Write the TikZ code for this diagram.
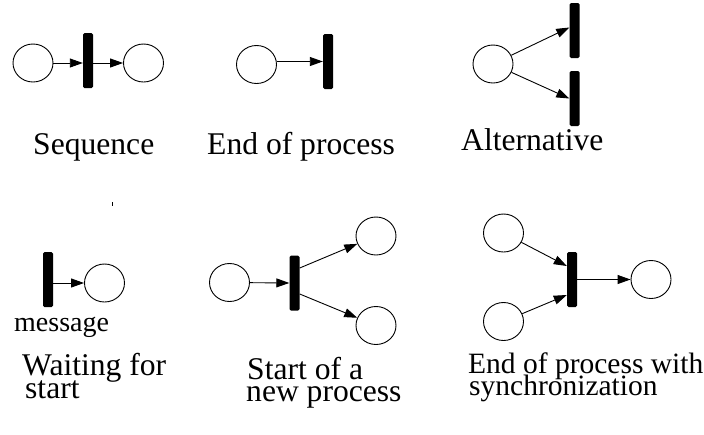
\documentclass[tikz,border=0pt]{standalone}
\usepackage{fontspec}
\setmainfont{Liberation Serif}
\usetikzlibrary{arrows.meta,shapes.geometric}
\begin{document}
\begin{tikzpicture}[x=1pt,y=-1pt,
  place/.style={draw,ellipse,line width=0.9pt,minimum width=40pt,minimum height=38pt,inner sep=0pt},
  trans/.style={fill=black,rounded corners=1.5pt,minimum width=10pt,minimum height=55pt,inner sep=0pt},
  arc/.style={line width=0.9pt,-{Triangle[length=13pt,width=9pt]}},
  lbl/.style={anchor=base west,inner sep=0pt,font=\fontsize{31.6}{34}\selectfont},
  lblnarrow/.style={anchor=base west,inner sep=0pt,font=\fontsize{29.5}{32}\selectfont},
  small/.style={anchor=base west,inner sep=0pt,font=\fontsize{28}{30}\selectfont}]
\useasboundingbox (0,0) rectangle (704,434);

% Sequence
\node[place] (s1) at (33,63) {};
\node[trans] (st) at (88,60.5) {};
\node[place] (s2) at (143.5,63) {};
\draw[arc] (s1) -- (st.west |- s1);
\draw[arc] (st.east |- s2) -- (s2);
\node[lbl] (sl) at (33,154) {Sequence};

% End of process
\node[place] (e1) at (256.5,64.5) {};
\node[trans] (et) at (328,61.5) {};
\draw[arc] (e1.east |- et) -- (et.west);
\node[lbl] (el) at (207,154) {End of process};

% Alternative
\node[place] (a1) at (493,64) {};
\node[trans] (at1) at (574.5,30.5) {};
\node[trans] (at2) at (574.5,98.5) {};
\draw[arc] (a1) -- ([yshift=3pt]at1.west);
\draw[arc] (a1) -- (at2.west);
\node[lbl] (al) at (461,150) {Alternative};

% Waiting for start
\draw[line width=1pt] (112,202) -- (112,206);
\node[trans] (wt) at (48,279.5) {};
\node[place] (w1) at (104.5,283) {};
\draw[arc] (wt.east |- w1) -- (w1);
\node[small] (wm) at (14,331) {message};
\node[lbl] (wl1) at (22,375) {Waiting for};
\node[lbl] (wl2) at (25,398) {start};

% Start of a new process
\node[place] (n1) at (229.5,282.5) {};
\node[trans] (nt) at (294.5,283) {};
\node[place] (n2) at (376,236) {};
\node[place] (n3) at (376,325.5) {};
\draw[arc] (n1) -- (nt.west);
\draw[arc] ([yshift=15pt]nt.east) -- (n2);
\draw[arc] ([yshift=-11pt]nt.east) -- (n3);
\node[lbl] (nl1) at (247,379) {Start of a};
\node[lbl] (nl2) at (246,401) {new process};

% End of process with synchronization
\node[place] (y1) at (503.5,233) {};
\node[place] (y2) at (503.5,321.5) {};
\node[trans] (yt) at (572,279.5) {};
\node[place] (y3) at (651,279.5) {};
\draw[arc] (y1) -- ([yshift=13.5pt]yt.west);
\draw[arc] (y2) -- ([yshift=-15.5pt]yt.west);
\draw[arc] (yt) -- (y3);
\node[lblnarrow] (yl1) at (468,373) {End of process with};
\node[lblnarrow] (yl2) at (469,395) {synchronization};
\end{tikzpicture}
\end{document}
